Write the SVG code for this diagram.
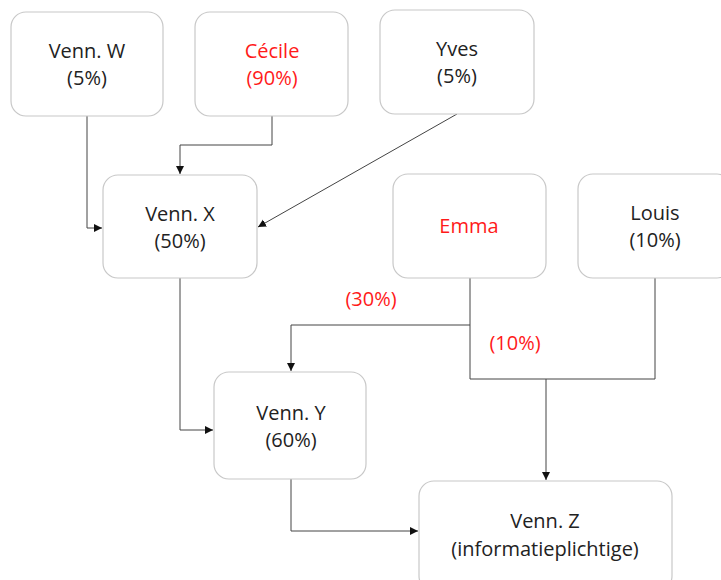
<svg xmlns="http://www.w3.org/2000/svg" width="721" height="580" viewBox="0 0 721 580">
<defs>
<style>
.box{fill:#fff;stroke:#c8c8c8;stroke-width:1.2}
.t{font-family:"Open Sans","Noto Sans",sans-serif;font-size:20px;fill:#222;text-anchor:middle}
.r{fill:#ff1a1a}
.c{fill:none;stroke:#444;stroke-width:1}
</style>
<marker id="ah" markerWidth="10" markerHeight="10" refX="8" refY="4" orient="auto" markerUnits="userSpaceOnUse">
<path d="M0,0 L8,4 L0,8 z" fill="#111"/>
</marker>
</defs>
<rect width="721" height="580" fill="#fff"/>
<g id="connectors">
<path class="c" d="M87,116 V228 H102" marker-end="url(#ah)"/>
<path class="c" d="M272,116 V145 H180 V174" marker-end="url(#ah)"/>
<path class="c" d="M457,114 L258,227" marker-end="url(#ah)"/>
<path class="c" d="M180,278 V430 H213" marker-end="url(#ah)"/>
<path class="c" d="M470,278 V379 H655 V278"/>
<path class="c" d="M470,325 H291 V371" marker-end="url(#ah)"/>
<path class="c" d="M546,379 V480" marker-end="url(#ah)"/>
<path class="c" d="M291,479 V531 H418" marker-end="url(#ah)"/>
</g>
<g id="lbl30"><text class="t r" x="371" y="306">(30%)</text></g>
<g id="lbl10"><text class="t r" x="515" y="350">(10%)</text></g>
<g id="vennW"><rect class="box" x="11" y="12" width="152" height="104" rx="15"/><text class="t" x="87" y="58">Venn. W</text><text class="t" x="87" y="85">(5%)</text></g>
<g id="cecile"><rect class="box" x="195" y="12" width="153" height="104" rx="15"/><text class="t r" x="272" y="58">Cécile</text><text class="t r" x="272" y="85">(90%)</text></g>
<g id="yves"><rect class="box" x="380" y="10" width="154" height="104" rx="15"/><text class="t" x="457" y="56">Yves</text><text class="t" x="457" y="83">(5%)</text></g>
<g id="vennX"><rect class="box" x="103" y="175" width="154" height="103" rx="15"/><text class="t" x="180" y="221">Venn. X</text><text class="t" x="180" y="248">(50%)</text></g>
<g id="emma"><rect class="box" x="393" y="174" width="153" height="104" rx="15"/><text class="t r" x="469" y="233">Emma</text></g>
<g id="louis"><rect class="box" x="578" y="174" width="154" height="104" rx="15"/><text class="t" x="655" y="220">Louis</text><text class="t" x="655" y="247">(10%)</text></g>
<g id="vennY"><rect class="box" x="214" y="372" width="152" height="107" rx="15"/><text class="t" x="291" y="420">Venn. Y</text><text class="t" x="291" y="447">(60%)</text></g>
<g id="vennZ"><rect class="box" x="419" y="481" width="253" height="110" rx="15"/><text class="t" x="545" y="528">Venn. Z</text><text class="t" x="545" y="556">(informatieplichtige)</text></g>
</svg>
